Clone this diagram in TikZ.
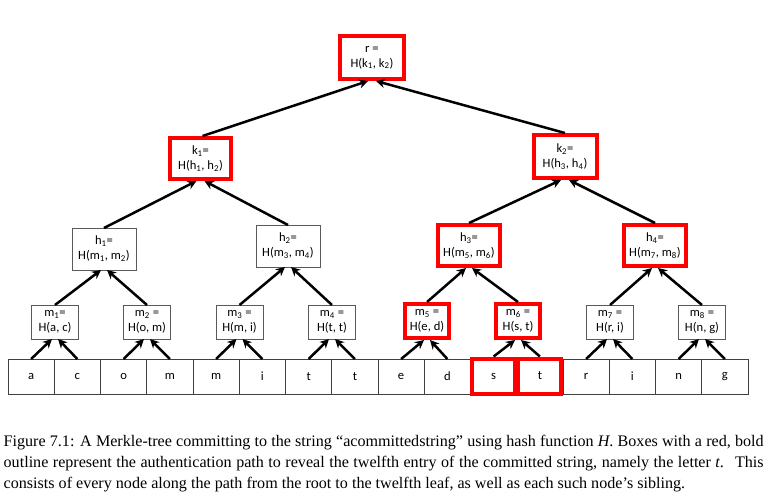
\documentclass[tikz,border=0pt]{standalone}
\usepackage{fontspec}
\setmainfont{Liberation Serif}
\newfontfamily\boxfont{Carlito}
\usetikzlibrary{arrows.meta}
\tikzset{
  hbox/.style={draw=black!65, line width=0.8pt, fill=white, align=center,
    font=\boxfont\fontsize{12.6}{15}\selectfont, inner sep=0pt, outer sep=0pt},
  redb/.style={draw=red, line width=4pt, outer sep=2pt},
  leaf/.style={draw=black!75, line width=0.8pt, fill=white,
    font=\boxfont\fontsize{12.6}{15}\selectfont, inner sep=0pt,
    minimum width=46.25pt, minimum height=35pt, outer sep=0pt},
  edge/.style={line width=2.5pt, -{Stealth[length=9pt,width=9pt]}},
  captext/.style={font=\fontsize{16.1}{21}\selectfont, inner sep=0pt, anchor=base west}
}
\begin{document}
\begin{tikzpicture}[x=1pt,y=-1pt]
\fill[white] (0,0) rectangle (768,499);
\useasboundingbox (0,0) rectangle (768,499);
% leaves
\foreach \i/\c in {1/a,2/c,3/o,4/m,5/m,6/i,7/t,8/t,9/e,10/d,13/r,14/i,15/n,16/g}{
  \node[leaf] (l\i) at ({8+46.25*(\i-0.5)},376.5) {\c};
}
\node[leaf, draw=red, line width=4pt, minimum width=43pt, minimum height=35pt, outer sep=2pt] (l11) at ({8+46.25*10.5},376) {s};
\node[leaf, draw=red, line width=4pt, minimum width=43pt, minimum height=35pt, outer sep=2pt] (l12) at ({8+46.25*11.5},376) {t};
% m level
\node[hbox, minimum width=47pt, minimum height=34pt] (m1) at (55,322) {m\textsubscript{1}=\\H(a, c)};
\node[hbox, minimum width=47pt, minimum height=34pt] (m2) at (147,322) {m\textsubscript{2} =\\H(o, m)};
\node[hbox, minimum width=47pt, minimum height=34pt] (m3) at (239.5,322) {m\textsubscript{3} =\\H(m, i)};
\node[hbox, minimum width=47pt, minimum height=34pt] (m4) at (332,322) {m\textsubscript{4} =\\H(t, t)};
\node[hbox, redb, minimum width=44pt, minimum height=34pt] (m5) at (427,321) {m\textsubscript{5} =\\H(e, d)};
\node[hbox, redb, minimum width=44pt, minimum height=34pt] (m6) at (518,321) {m\textsubscript{6} =\\H(s, t)};
\node[hbox, minimum width=47pt, minimum height=34pt] (m7) at (610,322) {m\textsubscript{7} =\\H(r, i)};
\node[hbox, minimum width=47pt, minimum height=34pt] (m8) at (702,322) {m\textsubscript{8} =\\H(n, g)};
% h level
\node[hbox, minimum width=64pt, minimum height=42pt] (h1) at (104,249) {h\textsubscript{1}=\\H(m\textsubscript{1}, m\textsubscript{2})};
\node[hbox, minimum width=64pt, minimum height=42pt] (h2) at (288,246) {h\textsubscript{2}=\\H(m\textsubscript{3}, m\textsubscript{4})};
\node[hbox, redb, minimum width=62pt, minimum height=41pt] (h3) at (469,245.5) {h\textsubscript{3}=\\H(m\textsubscript{5}, m\textsubscript{6})};
\node[hbox, redb, minimum width=62pt, minimum height=41pt] (h4) at (655,245.5) {h\textsubscript{4}=\\H(m\textsubscript{7}, m\textsubscript{8})};
% k level
\node[hbox, redb, minimum width=61pt, minimum height=41pt] (k1) at (200.5,158.5) {k\textsubscript{1}=\\H(h\textsubscript{1}, h\textsubscript{2})};
\node[hbox, redb, minimum width=63pt, minimum height=43pt] (k2) at (565,156.5) {k\textsubscript{2}=\\H(h\textsubscript{3}, h\textsubscript{4})};
% root
\node[hbox, redb, minimum width=64pt, minimum height=43pt] (r) at (372,57.5) {r =\\H(k\textsubscript{1}, k\textsubscript{2})};
% edges leaves -> m
\foreach \m/\a/\b in {1/1/2,2/3/4,3/5/6,4/7/8,5/9/10,6/11/12,7/13/14,8/15/16}{
  \draw[edge] (l\a.north) -- ([xshift=-3pt]m\m.south);
  \draw[edge] (l\b.north) -- ([xshift=3pt]m\m.south);
}
% m -> h
\foreach \h/\a/\b in {1/1/2,2/3/4,3/5/6,4/7/8}{
  \draw[edge] (m\a.north) -- ([xshift=-3pt]h\h.south);
  \draw[edge] (m\b.north) -- ([xshift=3pt]h\h.south);
}
% h -> k
\draw[edge] (h1.north) -- ([xshift=-4pt]k1.south);
\draw[edge] (h2.north) -- ([xshift=4pt]k1.south);
\draw[edge] (h3.north) -- ([xshift=-4pt]k2.south);
\draw[edge] (h4.north) -- ([xshift=4pt]k2.south);
% k -> r
\draw[edge] ([xshift=2pt]k1.north) -- ([xshift=-4pt]r.south);
\draw[edge] (k2.north) -- ([xshift=4pt]r.south);
% caption
\node[captext] (cap1) at (3.5,446) {\makebox[760pt][s]{Figure 7.1: A Merkle-tree committing to the string “acommittedstring” using hash function \textit{H}. Boxes with a red, bold}};
\node[captext] (cap2) at (3.5,467) {\makebox[760pt][s]{outline represent the authentication path to reveal the twelfth entry of the committed string, namely the letter \textit{t}. \ This}};
\node[captext] (cap3) at (3.5,488) {consists of every node along the path from the root to the twelfth leaf, as well as each such node’s sibling.};
\end{tikzpicture}
\end{document}
